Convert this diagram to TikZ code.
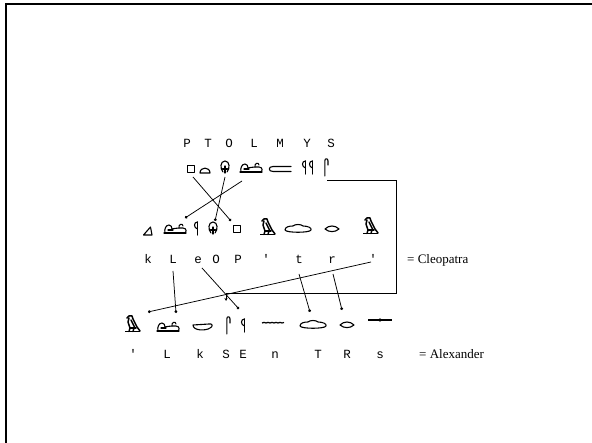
\documentclass[tikz,border=0pt]{standalone}
\usepackage{fontspec}
\setmainfont{Liberation Serif}
\newfontfamily\twfont{Liberation Mono}
\usetikzlibrary{arrows.meta}
\tikzset{
  glyph/.style={line width=1.1pt,line join=round,line cap=round},
  heavy/.style={line width=1.5pt,line join=round,line cap=round},
  lnk/.style={line width=0.75pt,-{Circle[length=2.8pt]}},
  tw/.style={font=\twfont\fontsize{12.5}{12.5}\selectfont,anchor=base,inner sep=0pt},
  lbl/.style={font=\fontsize{13}{13}\selectfont,anchor=base west,inner sep=0pt},
  sqr/.pic={\draw[glyph] (-3.5,-3.5) rectangle (3.5,3.5);},
  loaf/.pic={\draw[glyph] (-5,3) .. controls (-5,-3.5) and (5,-3.5) .. (5,3) -- cycle;},
  rope/.pic={\draw[glyph] (-2,5) .. controls (-5,2) and (-5,-6) .. (0,-6) .. controls (5,-6) and (5,2) .. (2,5);
     \draw[glyph] (-2.5,2) -- (2.5,2); \draw[glyph] (0,-1) -- (0,6); \fill (0,2) circle (1.4);},
  lion/.pic={\draw[glyph] (-12,4) -- (10,4);
     \draw[glyph] (-11,4) .. controls (-12,0) and (-10,-4) .. (-7,-4) .. controls (-5,-4) and (-4,-2) .. (-4,0) .. controls (0,-1) and (4,-1) .. (7,-1) .. controls (11,-1) and (11,4) .. (8,4);
     \draw[glyph] (3,-1) .. controls (2,-5) and (7,-6) .. (7,-3);
     \draw[glyph] (-8,1) -- (-3,1);},
  bar/.pic={\draw[glyph] (11,-2.5) -- (-7,-2.5) .. controls (-12,-2.5) and (-12,2.5) .. (-7,2.5) -- (11,2.5);},
  reed/.pic={\draw[glyph] (0.5,7) -- (0.5,-6); \draw[glyph] (0.5,-6) .. controls (-3.5,-6) and (-3.5,0) .. (0.5,1);},
  cloth/.pic={\draw[glyph] (-1.2,9) -- (-1.2,-6) .. controls (-1.2,-9) and (2,-9) .. (2,-6) -- (2,-2);},
  tri/.pic={\draw[glyph] (-4.5,4) -- (4,4) -- (2.5,-4) -- cycle;},
  vult/.pic={\draw[heavy] (-5,-6) -- (-3,-8) -- (0,-8) -- (1,-5) -- (5,3) -- (8,7);
     \draw[heavy] (-3,-6) -- (-4,-2) -- (-2,4);
     \draw[heavy] (-1,-4) -- (3,4);
     \draw[heavy] (-2,4) -- (4,4);
     \draw[line width=1.8pt] (-7,7.5) -- (8,7.5);
     \draw[heavy] (-2,4) -- (-3,7.5) (2,4) -- (1,7.5);},
  hand/.pic={\draw[glyph] (-13,1) .. controls (-13,-2) and (-9,-3) .. (-5,-3) .. controls (-3,-5) and (3,-5) .. (5,-3) .. controls (10,-3) and (14,-1) .. (13,1) .. controls (12,4) and (-12,4) .. (-13,1) -- cycle;},
  mouth/.pic={\draw[glyph] (-7,0) .. controls (-3,-4) and (3,-4) .. (7,0) .. controls (3,3.5) and (-3,3.5) .. (-7,0) -- cycle;},
  basket/.pic={\draw[glyph] (-10,-2) -- (6,-3) .. controls (10,-4) and (10,0) .. (7,1) .. controls (3,4) and (-10,4) .. (-10,-2) -- cycle;},
  water/.pic={\draw[line width=1.2pt] (-11,0) -- (-9,-0.6) -- (-7,0) -- (-5,-0.6) -- (-3,0) -- (-1,-0.6) -- (1,0) -- (3,-0.6) -- (5,0) -- (7,-0.6) -- (9,0) -- (11,-0.5);},
  bolt/.pic={\draw[line width=1.3pt] (-12,0) -- (12,0); \fill (-3,0) .. controls (-1,-2.2) and (1,-2.2) .. (3,0) .. controls (1,2.2) and (-1,2.2) .. (-3,0);}
}
\begin{document}
\begin{tikzpicture}[x=1pt,y=-1pt]
\useasboundingbox (0,0) rectangle (592,443);
\draw[line width=2.2pt] (6,443) -- (6,4) -- (592,4);
% row 1 letters
\node[tw] (t1) at (187,148) {P};
\node[tw] (t2) at (208,148) {T};
\node[tw] (t3) at (229,148) {O};
\node[tw] (t4) at (254,148) {L};
\node[tw] (t5) at (280,148) {M};
\node[tw] (t6) at (307,148) {Y};
\node[tw] (t7) at (331,148) {S};
% row 1 glyphs
\pic (g1p) at (191,169) {sqr};
\pic (g1t) at (205,170) {loaf};
\pic (g1o) at (225,167) {rope};
\pic (g1l) at (252,168) {lion};
\pic (g1m) at (280,169) {bar};
\pic (g1ya) at (305,167) {reed};
\pic (g1yb) at (312,167) {reed};
\pic (g1s) at (326,167) {cloth};
% row 2 glyphs
\pic (g2k) at (148,231) {tri};
\pic (g2l) at (176,229) {lion};
\pic (g2e) at (197,228) {reed};
\pic (g2o) at (213,228) {rope};
\pic (g2p) at (237,229) {sqr};
\pic (g2a) at (267,227) {vult};
\pic (g2t) at (298,229) {hand};
\pic (g2r) at (332,229) {mouth};
\pic (g2b) at (370,226) {vult};
% row 2 letters
\node[tw] (u1) at (148,264) {k};
\node[tw] (u2) at (173,264) {L};
\node[tw] (u3) at (198,264) {e};
\node[tw] (u4) at (216,264) {O};
\node[tw] (u5) at (238,264) {P};
\node[tw] (u6) at (266,264) {'};
\node[tw] (u7) at (299,264) {t};
\node[tw] (u8) at (332,264) {r};
\node[tw] (u9) at (373,264) {'};
\node[lbl] (cleo) at (407,264) {= Cleopatra};
% row 3 glyphs
\pic (g3a) at (132,324) {vult};
\pic (g3l) at (169,327) {lion};
\pic (g3k) at (203,327) {basket};
\pic (g3s) at (228,325) {cloth};
\pic (g3e) at (244,325) {reed};
\pic (g3n) at (273,323) {water};
\pic (g3t) at (313,325) {hand};
\pic (g3r) at (347,325) {mouth};
\pic (g3z) at (380,320) {bolt};
% row 3 letters
\node[tw] (v1) at (133,359) {'};
\node[tw] (v2) at (167,359) {L};
\node[tw] (v3) at (200,359) {k};
\node[tw] (v4) at (226,359) {S};
\node[tw] (v5) at (243,359) {E};
\node[tw] (v6) at (275,359) {n};
\node[tw] (v7) at (318,359) {T};
\node[tw] (v8) at (347,359) {R};
\node[tw] (v9) at (380,359) {s};
\node[lbl] (alex) at (419,359) {= Alexander};
% connectors row 1 -> row 2
\coordinate (c1a) at (193,177); \coordinate (c1b) at (231,221);
\coordinate (c2a) at (225,177); \coordinate (c2b) at (215,221);
\coordinate (c3a) at (242,181); \coordinate (c3b) at (185,218);
\draw[lnk] (c1a) -- (c1b);
\draw[lnk] (c2a) -- (c2b);
\draw[lnk] (c3a) -- (c3b);
% S path
\coordinate (s0) at (327,180); \coordinate (s1) at (396,180);
\coordinate (s2) at (396,293); \coordinate (s3) at (226,293);
\coordinate (s4) at (226,301);
\draw[line width=0.75pt,-{Stealth[length=3pt,width=3pt]}] (s0) -- (s1) -- (s2) -- (s3) -- (s4);
% row 2 -> row 3
\coordinate (d1a) at (173,271); \coordinate (d1b) at (176,313);
\coordinate (d2a) at (202,268); \coordinate (d2b) at (239,309);
\coordinate (d3a) at (299,274); \coordinate (d3b) at (310,312);
\coordinate (d4a) at (333,274); \coordinate (d4b) at (342,310);
\coordinate (d5a) at (371,262); \coordinate (d5b) at (148,312);
\draw[lnk] (d1a) -- (d1b);
\draw[lnk] (d2a) -- (d2b);
\draw[lnk] (d3a) -- (d3b);
\draw[lnk] (d4a) -- (d4b);
\draw[lnk] (d5a) -- (d5b);
\end{tikzpicture}
\end{document}
